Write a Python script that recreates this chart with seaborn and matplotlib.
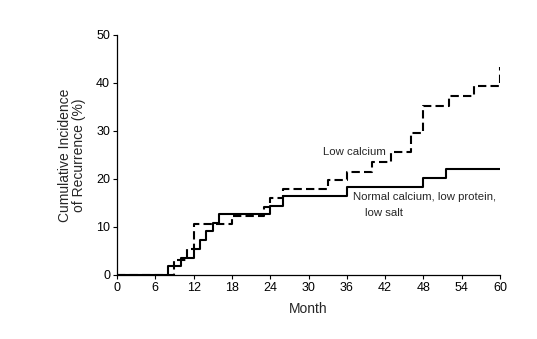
import matplotlib
matplotlib.use("Agg")
import matplotlib.pyplot as plt
import seaborn as sns
import pandas as pd

# Data
normal_months = [0, 8, 10, 12, 13, 14, 15, 16, 24, 26, 36, 48, 51.5, 60]
normal_values = [0, 1.9, 3.6, 5.4, 7.3, 9.1, 10.8, 12.7, 14.4, 16.4, 18.3, 20.2, 22.1, 22.1]
low_months = [0, 9, 11, 12, 18, 23, 24, 26, 33, 36, 40, 43, 46, 48, 52, 56, 60]
low_values = [0, 3.1, 5.3, 10.6, 12.2, 14.2, 16.0, 17.9, 19.8, 21.5, 23.6, 25.6, 29.5, 35.2, 37.3, 39.4, 43.3]
x_ticks = [0, 6, 12, 18, 24, 30, 36, 42, 48, 54, 60]
y_ticks = [0, 10, 20, 30, 40, 50]

sns.set_theme(style="ticks")
plt.rcParams['font.family'] = ['Liberation Sans', 'DejaVu Sans']

df_n = pd.DataFrame({"Month": normal_months, "Inc": normal_values})
df_l = pd.DataFrame({"Month": low_months, "Inc": low_values})

fig = plt.figure(figsize=(5.37, 3.39), dpi=100)
ax = fig.add_axes([0.218, 0.189, 0.713, 0.708])

sns.lineplot(data=df_n, x="Month", y="Inc", ax=ax, color="black", lw=1.5,
             drawstyle="steps-post", estimator=None, sort=False)
sns.lineplot(data=df_l, x="Month", y="Inc", ax=ax, color="black", lw=1.5,
             drawstyle="steps-post", estimator=None, sort=False, dashes=False,
             linestyle=(0, (4, 2)))

ax.set_xlim(0, 60)
ax.set_ylim(0, 50)
ax.set_xticks(x_ticks)
ax.set_yticks(y_ticks)
ax.tick_params(axis="both", labelsize=9, length=3, width=0.8, colors="black", pad=2)
for s in ["top", "right"]:
    ax.spines[s].set_visible(False)
for s in ["left", "bottom"]:
    ax.spines[s].set_linewidth(0.9)
    ax.spines[s].set_color("black")

ax.set_xlabel("Month", fontsize=10, labelpad=6)
ax.set_ylabel("Cumulative Incidence\nof Recurrence (%)", fontsize=10, labelpad=7, linespacing=1.05)

ax.text(32.2, 25.6, "Low calcium", fontsize=8.2, va="center", ha="left")
ax.text(37.0, 16.2, "Normal calcium, low protein,", fontsize=8.2, va="center", ha="left")
ax.text(38.8, 12.8, "low salt", fontsize=8.2, va="center", ha="left")

fig.savefig("out.png", dpi=100)
